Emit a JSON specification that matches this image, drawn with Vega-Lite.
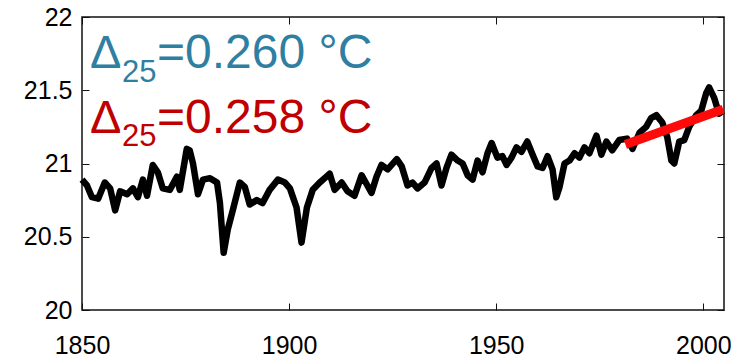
{
  "$schema": "https://vega.github.io/schema/vega-lite/v6.json",
  "width": 642,
  "height": 293,
  "autosize": {"type": "none"},
  "padding": {"left": 82, "top": 17, "right": 13, "bottom": 49},
  "background": "white",
  "config": {
    "view": {"stroke": "#111", "strokeWidth": 1.5},
    "axis": {
      "grid": false,
      "domain": false,
      "tickColor": "#111",
      "tickWidth": 1,
      "tickSize": -7,
      "labelFont": "Liberation Sans",
      "labelFontSize": 25,
      "labelColor": "#000",
      "title": null
    },
    "text": {"font": "Liberation Sans"}
  },
  "datasets": {
    "temp": [
      {"year": 1850.0, "value": 20.89}, {"year": 1851.2, "value": 20.85}, {"year": 1852.4, "value": 20.77},
      {"year": 1853.9, "value": 20.76}, {"year": 1855.5, "value": 20.87}, {"year": 1856.8, "value": 20.83},
      {"year": 1858.0, "value": 20.68}, {"year": 1859.2, "value": 20.81}, {"year": 1860.9, "value": 20.79},
      {"year": 1862.3, "value": 20.83}, {"year": 1863.5, "value": 20.77}, {"year": 1864.7, "value": 20.89},
      {"year": 1865.7, "value": 20.78}, {"year": 1867.1, "value": 20.99}, {"year": 1868.3, "value": 20.94},
      {"year": 1869.5, "value": 20.83}, {"year": 1871.2, "value": 20.82}, {"year": 1872.9, "value": 20.91},
      {"year": 1873.6, "value": 20.82}, {"year": 1875.3, "value": 21.1}, {"year": 1876.0, "value": 21.09},
      {"year": 1876.8, "value": 21.0}, {"year": 1878.0, "value": 20.79}, {"year": 1879.2, "value": 20.89},
      {"year": 1880.9, "value": 20.9}, {"year": 1882.6, "value": 20.87}, {"year": 1883.3, "value": 20.73},
      {"year": 1884.2, "value": 20.39}, {"year": 1885.2, "value": 20.55}, {"year": 1886.4, "value": 20.68},
      {"year": 1888.1, "value": 20.87}, {"year": 1889.3, "value": 20.84}, {"year": 1890.5, "value": 20.72},
      {"year": 1892.2, "value": 20.75}, {"year": 1893.6, "value": 20.73}, {"year": 1895.3, "value": 20.82},
      {"year": 1897.3, "value": 20.89}, {"year": 1899.0, "value": 20.87}, {"year": 1900.2, "value": 20.83},
      {"year": 1901.8, "value": 20.7}, {"year": 1903.0, "value": 20.46}, {"year": 1904.3, "value": 20.7},
      {"year": 1905.7, "value": 20.82}, {"year": 1907.4, "value": 20.87}, {"year": 1908.6, "value": 20.9},
      {"year": 1909.8, "value": 20.93}, {"year": 1911.0, "value": 20.82}, {"year": 1912.7, "value": 20.87},
      {"year": 1914.1, "value": 20.81}, {"year": 1915.8, "value": 20.78}, {"year": 1917.5, "value": 20.92},
      {"year": 1918.7, "value": 20.86}, {"year": 1919.9, "value": 20.8}, {"year": 1921.1, "value": 20.91},
      {"year": 1922.3, "value": 20.99}, {"year": 1923.8, "value": 20.96}, {"year": 1926.0, "value": 21.03},
      {"year": 1927.2, "value": 20.98}, {"year": 1928.6, "value": 20.85}, {"year": 1929.8, "value": 20.87},
      {"year": 1931.0, "value": 20.83}, {"year": 1932.7, "value": 20.87}, {"year": 1934.4, "value": 20.97},
      {"year": 1935.6, "value": 21.0}, {"year": 1936.8, "value": 20.85}, {"year": 1938.0, "value": 20.97},
      {"year": 1939.2, "value": 21.06}, {"year": 1940.7, "value": 21.02}, {"year": 1941.9, "value": 21.0},
      {"year": 1943.1, "value": 20.92}, {"year": 1944.3, "value": 20.89}, {"year": 1945.5, "value": 21.02},
      {"year": 1946.7, "value": 20.94}, {"year": 1947.9, "value": 21.07}, {"year": 1948.9, "value": 21.14},
      {"year": 1950.3, "value": 21.04}, {"year": 1951.5, "value": 21.05}, {"year": 1952.5, "value": 20.99},
      {"year": 1953.7, "value": 21.04}, {"year": 1954.9, "value": 21.11}, {"year": 1956.1, "value": 21.08},
      {"year": 1957.5, "value": 21.15}, {"year": 1958.8, "value": 21.06}, {"year": 1960.0, "value": 20.98},
      {"year": 1961.2, "value": 20.97}, {"year": 1962.4, "value": 21.05}, {"year": 1963.6, "value": 20.96},
      {"year": 1964.5, "value": 20.77}, {"year": 1965.3, "value": 20.84}, {"year": 1966.5, "value": 21.0},
      {"year": 1967.7, "value": 21.02}, {"year": 1968.9, "value": 21.07}, {"year": 1970.1, "value": 21.04},
      {"year": 1971.3, "value": 21.11}, {"year": 1972.5, "value": 21.07}, {"year": 1974.2, "value": 21.19},
      {"year": 1975.4, "value": 21.06}, {"year": 1976.6, "value": 21.15}, {"year": 1978.0, "value": 21.09},
      {"year": 1979.7, "value": 21.16}, {"year": 1981.6, "value": 21.17}, {"year": 1982.9, "value": 21.1},
      {"year": 1984.6, "value": 21.21}, {"year": 1986.2, "value": 21.25}, {"year": 1987.4, "value": 21.31},
      {"year": 1988.7, "value": 21.33}, {"year": 1990.1, "value": 21.28}, {"year": 1991.3, "value": 21.18},
      {"year": 1992.3, "value": 21.02}, {"year": 1993.0, "value": 21.0}, {"year": 1994.2, "value": 21.15},
      {"year": 1995.4, "value": 21.16}, {"year": 1996.6, "value": 21.25}, {"year": 1998.3, "value": 21.33},
      {"year": 1999.5, "value": 21.36}, {"year": 2000.7, "value": 21.48}, {"year": 2001.4, "value": 21.52},
      {"year": 2002.6, "value": 21.45}, {"year": 2003.8, "value": 21.34}, {"year": 2004.8, "value": 21.36}
    ],
    "trend": [
      {"year": 1981.2, "value": 21.13},
      {"year": 2004.8, "value": 21.37}
    ],
    "labels": [
      {"row": "blue", "part": "delta", "text": "Δ"},
      {"row": "blue", "part": "sub", "text": "25"},
      {"row": "blue", "part": "rest", "text": "=0.260 °C"},
      {"row": "red", "part": "delta", "text": "Δ"},
      {"row": "red", "part": "sub", "text": "25"},
      {"row": "red", "part": "rest", "text": "=0.258 °C"}
    ]
  },
  "resolve": {"axis": {"x": "independent", "y": "independent"}},
  "layer": [
    {
      "data": {"name": "temp"},
      "mark": {"type": "line", "color": "#000", "strokeWidth": 6.5, "strokeJoin": "round", "strokeCap": "butt"},
      "encoding": {
        "x": {"field": "year", "type": "quantitative",
              "scale": {"domain": [1850, 2005], "nice": false, "zero": false},
              "axis": {"orient": "bottom", "values": [1850, 1900, 1950, 2000], "format": "d", "labelPadding": 30, "labelFlush": false}},
        "y": {"field": "value", "type": "quantitative",
              "scale": {"domain": [20, 22], "nice": false, "zero": false},
              "axis": {"orient": "left", "values": [20, 20.5, 21, 21.5, 22], "format": "~g", "labelPadding": 17}}
      }
    },
    {
      "data": {"name": "trend"},
      "mark": {"type": "line", "color": "#ff0a0a", "strokeWidth": 9, "strokeCap": "butt"},
      "encoding": {
        "x": {"field": "year", "type": "quantitative",
              "scale": {"domain": [1850, 2005], "nice": false, "zero": false},
              "axis": {"orient": "top", "values": [1850, 1900, 1950, 2000], "labels": false}},
        "y": {"field": "value", "type": "quantitative",
              "scale": {"domain": [20, 22], "nice": false, "zero": false},
              "axis": {"orient": "right", "values": [20, 20.5, 21, 21.5, 22], "labels": false}}
      }
    },
    {
      "data": {"name": "labels"},
      "transform": [{"filter": "datum.row === 'blue' && datum.part === 'delta'"}],
      "mark": {"type": "text", "align": "left", "baseline": "alphabetic", "fontSize": 47, "color": "#2f7fa3", "dx": 8},
      "encoding": {"x": {"datum": 1850, "type": "quantitative", "axis": null}, "y": {"datum": 21.652, "type": "quantitative", "axis": null}, "text": {"field": "text"}}
    },
    {
      "data": {"name": "labels"},
      "transform": [{"filter": "datum.row === 'blue' && datum.part === 'sub'"}],
      "mark": {"type": "text", "align": "left", "baseline": "alphabetic", "fontSize": 31, "color": "#2f7fa3", "dx": 40, "dy": 14},
      "encoding": {"x": {"datum": 1850, "type": "quantitative", "axis": null}, "y": {"datum": 21.652, "type": "quantitative", "axis": null}, "text": {"field": "text"}}
    },
    {
      "data": {"name": "labels"},
      "transform": [{"filter": "datum.row === 'blue' && datum.part === 'rest'"}],
      "mark": {"type": "text", "align": "left", "baseline": "alphabetic", "fontSize": 48, "color": "#2f7fa3", "dx": 75},
      "encoding": {"x": {"datum": 1850, "type": "quantitative", "axis": null}, "y": {"datum": 21.652, "type": "quantitative", "axis": null}, "text": {"field": "text"}}
    },
    {
      "data": {"name": "labels"},
      "transform": [{"filter": "datum.row === 'red' && datum.part === 'delta'"}],
      "mark": {"type": "text", "align": "left", "baseline": "alphabetic", "fontSize": 47, "color": "#c00000", "dx": 8},
      "encoding": {"x": {"datum": 1850, "type": "quantitative", "axis": null}, "y": {"datum": 21.208, "type": "quantitative", "axis": null}, "text": {"field": "text"}}
    },
    {
      "data": {"name": "labels"},
      "transform": [{"filter": "datum.row === 'red' && datum.part === 'sub'"}],
      "mark": {"type": "text", "align": "left", "baseline": "alphabetic", "fontSize": 31, "color": "#c00000", "dx": 40, "dy": 13},
      "encoding": {"x": {"datum": 1850, "type": "quantitative", "axis": null}, "y": {"datum": 21.208, "type": "quantitative", "axis": null}, "text": {"field": "text"}}
    },
    {
      "data": {"name": "labels"},
      "transform": [{"filter": "datum.row === 'red' && datum.part === 'rest'"}],
      "mark": {"type": "text", "align": "left", "baseline": "alphabetic", "fontSize": 48, "color": "#c00000", "dx": 75},
      "encoding": {"x": {"datum": 1850, "type": "quantitative", "axis": null}, "y": {"datum": 21.208, "type": "quantitative", "axis": null}, "text": {"field": "text"}}
    }
  ]
}
